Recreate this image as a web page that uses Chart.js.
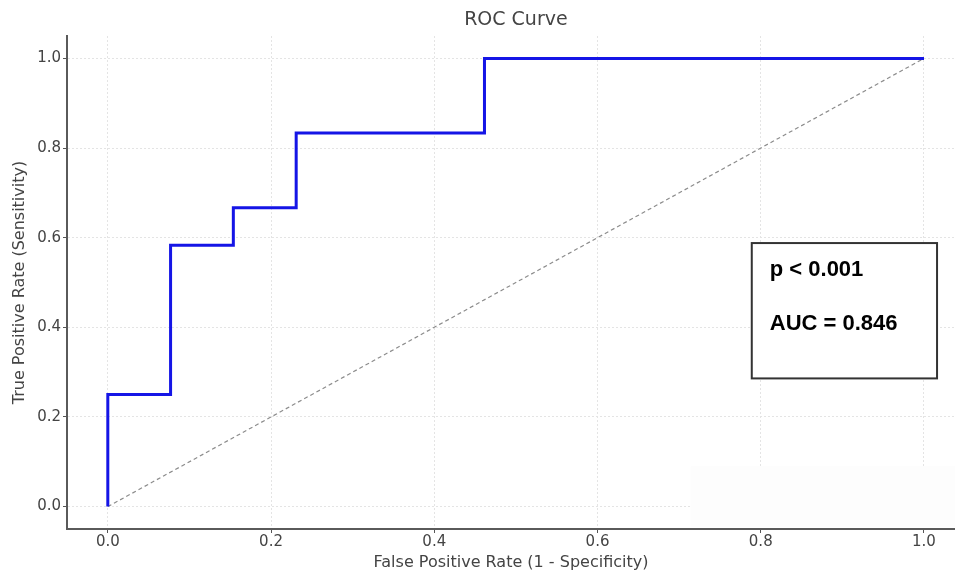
<!DOCTYPE html>
<html lang="en">
<head>
    <meta charset="UTF-8">
    <title>ROC Curve</title>
    <script src="https://cdn.jsdelivr.net/npm/chart.js"></script>
    <style>
        html, body { margin: 0; padding: 0; background: #fff; overflow: hidden; }
        #wrap { width: 955px; height: 573px; }
    </style>
</head>
<body>
<div id="wrap"><canvas id="chart"></canvas></div>
<script>
    // ROC points (corners of the step curve)
    const fpr = [0, 0, 0.0769, 0.0769, 0.1538, 0.1538, 0.2308, 0.2308, 0.4615, 0.4615, 1.0];
    const tpr = [0, 0.25, 0.25, 0.5833, 0.5833, 0.6667, 0.6667, 0.8333, 0.8333, 1.0, 1.0];
    // chance line
    const chanceX = [0, 1];
    const chanceY = [0, 1];
    const tickValues = [0, 0.2, 0.4, 0.6, 0.8, 1.0];
    const chartTitle = 'ROC Curve';
    const boxLines = ['p < 0.001', 'AUC = 0.846'];

    const textColor = '#444';
    const tickFont = { family: 'DejaVu Sans', size: 15 };
    const titleFont = { family: 'DejaVu Sans', size: 16 };

    // title over the axes centre, white patch in the lower right, p/AUC box
    const overlay = {
        id: 'overlay',
        beforeDatasetsDraw(chart) {
            const { ctx, scales: { x, y }, chartArea } = chart;
            ctx.save();
            ctx.fillStyle = '#fdfdfd';
            const px = x.getPixelForValue(0.714);
            const py = y.getPixelForValue(0.09);
            ctx.fillRect(px, py, chartArea.right - px, chartArea.bottom - 2 - py);
            ctx.restore();
        },
        afterDatasetsDraw(chart) {
            const { ctx, scales: { x, y } } = chart;
            ctx.save();
            ctx.fillStyle = textColor;
            ctx.font = '19px "DejaVu Sans"';
            ctx.textAlign = 'center';
            ctx.textBaseline = 'middle';
            ctx.fillText(chartTitle, x.getPixelForValue(0.5), 20);

            const x0 = x.getPixelForValue(0.789), x1 = x.getPixelForValue(1.016);
            const y0 = y.getPixelForValue(0.588), y1 = y.getPixelForValue(0.286);
            ctx.fillStyle = '#fff';
            ctx.fillRect(x0, y0, x1 - x0, y1 - y0);
            ctx.strokeStyle = '#333';
            ctx.lineWidth = 2;
            ctx.strokeRect(x0, y0, x1 - x0, y1 - y0);
            ctx.fillStyle = '#000';
            ctx.font = 'bold 22px "Liberation Sans", Arial, sans-serif';
            ctx.textAlign = 'left';
            ctx.fillText(boxLines[0], x0 + 18, y0 + 27);
            ctx.fillText(boxLines[1], x0 + 18, y0 + 81);
            ctx.restore();
        }
    };

    const fixedTicks = scale => { scale.ticks = tickValues.map(v => ({ value: v })); };

    new Chart(document.getElementById('chart'), {
        type: 'scatter',
        data: {
            datasets: [
                {
                    label: 'ROC',
                    data: fpr.map((v, i) => ({ x: v, y: tpr[i] })),
                    showLine: true,
                    borderColor: '#1515e6',
                    borderWidth: 3,
                    pointRadius: 0,
                    fill: false,
                    order: 1
                },
                {
                    label: 'Chance',
                    data: chanceX.map((v, i) => ({ x: v, y: chanceY[i] })),
                    showLine: true,
                    borderColor: '#8c8c8c',
                    borderWidth: 1.2,
                    borderDash: [4, 3],
                    pointRadius: 0,
                    fill: false,
                    order: 2
                }
            ]
        },
        options: {
            responsive: true,
            maintainAspectRatio: false,
            animation: false,
            layout: { padding: { left: 0, right: 0, top: 36, bottom: 0 } },
            plugins: {
                legend: { display: false },
                tooltip: { enabled: false },
                title: { display: false }
            },
            scales: {
                x: {
                    type: 'linear',
                    min: -0.05,
                    max: 1.038,
                    afterBuildTicks: fixedTicks,
                    afterFit: s => { s.height = 44; },
                    ticks: {
                        color: textColor,
                        font: tickFont,
                        padding: 0,
                        maxRotation: 0,
                        callback: v => v.toFixed(1)
                    },
                    grid: {
                        color: '#e4e4e4',
                        tickColor: '#555',
                        tickLength: 4
                    },
                    border: { display: true, color: '#5a5a5a', width: 2, dash: [2, 2] },
                    title: {
                        display: true,
                        text: 'False Positive Rate (1 - Specificity)',
                        color: textColor,
                        font: titleFont,
                        padding: { top: 0, bottom: 1 }
                    }
                },
                y: {
                    type: 'linear',
                    min: -0.05,
                    max: 1.05,
                    afterBuildTicks: fixedTicks,
                    afterFit: s => { s.width = 67; },
                    ticks: {
                        color: textColor,
                        font: tickFont,
                        padding: 2,
                        callback: v => v.toFixed(1)
                    },
                    grid: {
                        color: '#e4e4e4',
                        tickColor: '#555',
                        tickLength: 4
                    },
                    border: { display: true, color: '#5a5a5a', width: 2, dash: [2, 2] },
                    title: {
                        display: true,
                        text: 'True Positive Rate (Sensitivity)',
                        color: textColor,
                        font: titleFont,
                        padding: { top: 10, bottom: 0 }
                    }
                }
            }
        },
        plugins: [overlay]
    });
</script>
</body>
</html>
